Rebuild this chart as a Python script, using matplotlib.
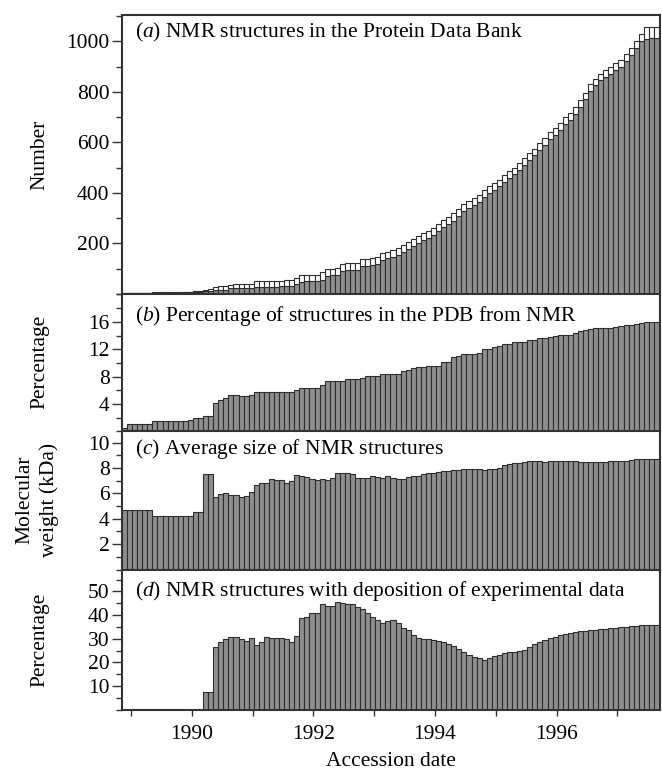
import numpy as np
import matplotlib
matplotlib.use("Agg")
import matplotlib.pyplot as plt
from matplotlib.ticker import MultipleLocator, FixedLocator

plt.rcParams['font.family'] = ['Liberation Serif', 'DejaVu Serif']
plt.rcParams['mathtext.fontset'] = 'custom'
plt.rcParams['mathtext.rm'] = 'Liberation Serif'
plt.rcParams['mathtext.it'] = 'Liberation Serif:italic'

# monthly bars, first one starting late 1988
start_year = 1988.85

nmr_released = [1, 2, 2, 2, 3, 3,
                4, 4, 4, 5, 5, 5, 6, 6,
                8, 8, 10, 11, 14, 17, 17,
                21, 22, 22, 23, 24,
                27, 27, 28, 28, 28, 29, 29, 30,
                40, 48, 49, 50, 51, 56,
                72, 73, 74, 92, 93, 94, 95,
                110, 112, 114, 118, 132,
                140, 147, 155, 165, 178, 190, 203, 212, 222, 232,
                250, 264, 278, 290, 308, 328, 340, 352, 364, 382,
                398, 410, 425, 442, 460, 474, 490, 510, 530, 548,
                568, 590, 612, 630, 650, 672, 690, 712, 740, 770,
                805, 825, 845, 858, 872, 885, 898, 920, 945, 972,
                1000, 1010, 1012, 1012]
nmr_total = [2, 3, 3, 3, 4, 4,
             6, 6, 6, 7, 7, 7, 8, 8,
             12, 12, 17, 18, 28, 31, 31,
             36, 37, 37, 38, 39,
             49, 50, 51, 51, 52, 52, 53, 54,
             61, 73, 74, 74, 75, 87,
             99, 100, 101, 118, 120, 121, 122,
             137, 139, 141, 147, 162,
             167, 174, 181, 192, 205, 218, 230, 240, 250, 260,
             277, 292, 305, 318, 335, 355, 368, 378, 392, 410,
             425, 437, 452, 470, 487, 500, 517, 536, 556, 575,
             596, 617, 640, 658, 678, 700, 716, 740, 766, 797,
             832, 852, 872, 885, 899, 912, 925, 948, 972, 1000,
             1030, 1055, 1058, 1058]
pct_pdb = [0.5, 1.1, 1.1, 1.1, 1.1, 1.1,
           1.5, 1.5, 1.5, 1.5, 1.5, 1.5, 1.5, 1.6,
           1.9, 1.9, 2.3, 2.3, 4.1, 4.6, 4.85,
           5.3, 5.3, 5.1, 5.15, 5.3,
           5.8, 5.8, 5.8, 5.8, 5.8, 5.8, 5.75, 5.75,
           6.05, 6.35, 6.4, 6.4, 6.4, 6.75,
           7.35, 7.4, 7.4, 7.4, 7.6, 7.6, 7.6,
           7.85, 8.1, 8.15, 8.05, 8.45,
           8.45, 8.4, 8.45, 8.8, 9.0, 9.2, 9.4, 9.45, 9.5, 9.5,
           9.55, 10.2, 10.2, 10.9, 11.0, 11.3, 11.3, 11.3, 11.4, 12.0,
           12.1, 12.35, 12.45, 12.7, 12.8, 13.0, 13.0, 13.05, 13.3, 13.4,
           13.6, 13.65, 13.8, 13.9, 14.05, 14.1, 14.1, 14.4, 14.6, 14.8,
           14.9, 15.05, 15.1, 15.1, 15.15, 15.3, 15.4, 15.5, 15.6, 15.65,
           15.8, 16.0, 16.0, 16.0]
avg_size = [4.7, 4.7, 4.7, 4.7, 4.7, 4.7,
            4.2, 4.2, 4.2, 4.2, 4.2, 4.2, 4.2, 4.2,
            4.5, 4.5, 7.5, 7.5, 5.75, 5.95, 6.0,
            5.85, 5.85, 5.75, 5.8, 6.15,
            6.65, 6.8, 6.85, 7.15, 7.1, 7.05, 6.85, 7.0,
            7.45, 7.35, 7.3, 7.15, 7.05, 7.15,
            7.1, 7.2, 7.6, 7.65, 7.6, 7.5, 7.25,
            7.2, 7.25, 7.35, 7.3, 7.2,
            7.35, 7.25, 7.15, 7.15, 7.3, 7.35, 7.4, 7.5, 7.6, 7.65,
            7.7, 7.75, 7.8, 7.85, 7.85, 7.9, 7.9, 7.9, 7.9, 7.85,
            7.9, 7.95, 8.0, 8.25, 8.3, 8.4, 8.4, 8.5, 8.6, 8.6,
            8.55, 8.5, 8.6, 8.6, 8.6, 8.6, 8.6, 8.55, 8.5, 8.5,
            8.5, 8.5, 8.5, 8.5, 8.55, 8.55, 8.6, 8.6, 8.65, 8.7,
            8.7, 8.7, 8.7, 8.7]
pct_expdata = [0, 0, 0, 0, 0, 0,
               0, 0, 0, 0, 0, 0, 0, 0,
               0, 0, 7.6, 7.6, 26.6, 28.8, 29.8,
               30.6, 30.6, 30.0, 29.0, 30.3,
               27.4, 28.8, 30.6, 30.2, 30.2, 30.2, 29.8, 28.8,
               31.2, 38.7, 39.4, 40.8, 40.8, 44.7,
               43.9, 43.9, 45.7, 45.0, 44.7, 44.7, 43.6,
               42.5, 40.8, 39.1, 38.0, 36.8,
               37.5, 38.0, 36.5, 34.5, 33.5, 31.6, 30.5, 30.0, 29.8, 29.6,
               29.2, 28.8, 27.8, 26.8, 25.5, 24.3, 23.1, 22.4, 21.7, 21.0,
               21.9, 22.7, 23.3, 23.8, 24.3, 24.5, 25.0, 25.4, 26.5, 27.6,
               28.8, 29.6, 30.3, 30.8, 31.4, 32.0, 32.6, 33.0, 33.3, 33.4,
               33.6, 33.7, 34.0, 34.2, 34.5, 34.6, 35.0, 35.1, 35.4, 35.5,
               35.6, 35.6, 35.6, 35.6]

x = start_year + np.arange(len(nmr_released)) / 12.0
w = 1 / 12.0

bar_kw = dict(width=w, align='edge', edgecolor='#2e2e2e', linewidth=0.8)
gray = '#8e8e8e'
fs = 15.5

fig = plt.figure(figsize=(6.62, 7.72), dpi=100)
L, W = 122 / 662, 538 / 662
H = 772.0


def panel(top_px, bot_px):
    return fig.add_axes([L, 1 - bot_px / H, W, (bot_px - top_px) / H])


axa = panel(15, 293.8)
axb = panel(293.8, 431.4)
axc = panel(431.4, 569.5)
axd = panel(569.5, 709.6)

axa.bar(x, nmr_released, color=gray, **bar_kw)
axa.bar(x, np.array(nmr_total) - np.array(nmr_released), bottom=nmr_released,
        color='white', **bar_kw)
axb.bar(x, pct_pdb, color=gray, **bar_kw)
axc.bar(x, avg_size, color=gray, **bar_kw)
axd.bar(x, pct_expdata, color=gray, **bar_kw)

axa.set_ylim(0, 1104)
axa.yaxis.set_major_locator(FixedLocator([200, 400, 600, 800, 1000]))
axa.yaxis.set_minor_locator(MultipleLocator(100))
axb.set_ylim(0, 20.1)
axb.yaxis.set_major_locator(FixedLocator([4, 8, 12, 16]))
axb.yaxis.set_minor_locator(MultipleLocator(2))
axc.set_ylim(0, 10.9)
axc.yaxis.set_major_locator(FixedLocator([2, 4, 6, 8, 10]))
axc.yaxis.set_minor_locator(MultipleLocator(1))
axd.set_ylim(0, 59.3)
axd.yaxis.set_major_locator(FixedLocator([10, 20, 30, 40, 50]))
axd.yaxis.set_minor_locator(MultipleLocator(5))

for ax in (axa, axb, axc, axd):
    ax.set_xlim(start_year, 1997.70)
    ax.xaxis.set_major_locator(MultipleLocator(1))
    for s in ax.spines.values():
        s.set_linewidth(1.5)
        s.set_color('#333333')
    ax.tick_params(axis='y', direction='out', length=7, width=1.0, color='#333333',
                   labelsize=fs, pad=2)
    ax.tick_params(axis='y', which='minor', direction='out', length=4.5, width=1.0,
                   color='#333333')
    ax.tick_params(axis='x', direction='out', length=4, width=1.0, color='#333333',
                   labelsize=fs, labelbottom=False)

axd.tick_params(axis='x', labelbottom=True)
axd.set_xticks([1989, 1990, 1991, 1992, 1993, 1994, 1995, 1996, 1997])
axd.set_xticklabels(['', '1990', '', '1992', '', '1994', '', '1996', ''])
axd.tick_params(axis='x', pad=7)

axa.text(0.024, 0.937, r'($\mathit{a}$) NMR structures in the Protein Data Bank',
         transform=axa.transAxes, fontsize=fs, va='center')
axb.text(0.024, 0.84, r'($\mathit{b}$) Percentage of structures in the PDB from NMR',
         transform=axb.transAxes, fontsize=fs, va='center')
axc.text(0.024, 0.873, r'($\mathit{c}$) Average size of NMR structures',
         transform=axc.transAxes, fontsize=fs, va='center')
axd.text(0.024, 0.85, r'($\mathit{d}$) NMR structures with deposition of experimental data',
         transform=axd.transAxes, fontsize=fs, va='center')

lx = 40 / 662
fig.text(lx, 1 - 155 / H, 'Number', rotation=90, ha='center', va='center', fontsize=fs)
fig.text(lx, 1 - 362 / H, 'Percentage', rotation=90, ha='center', va='center', fontsize=fs)
fig.text(37 / 662, 1 - 500 / H, 'Molecular\nweight (kDa)', rotation=90, ha='center',
         va='center', fontsize=fs, multialignment='center', linespacing=1.3)
fig.text(lx, 1 - 640 / H, 'Percentage', rotation=90, ha='center', va='center', fontsize=fs)
fig.text(391 / 662, 1 - 761 / H, 'Accession date', ha='center', va='center', fontsize=fs)

fig.savefig('out.png', dpi=100)
